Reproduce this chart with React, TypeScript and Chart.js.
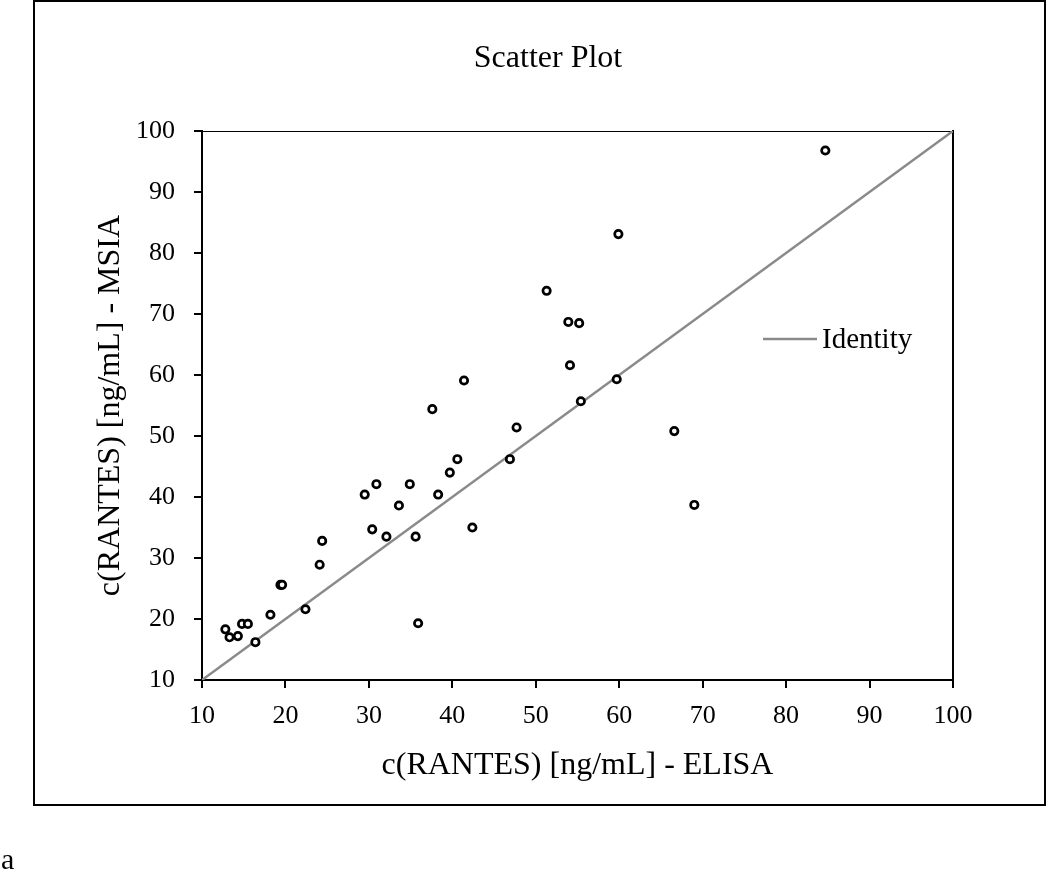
import React, { useEffect, useRef } from "react";
import { Chart, registerables } from "chart.js";

Chart.register(...registerables);

// ---- data ----
const elisa = [
  12.8, 13.3, 14.3, 14.8, 15.5, 16.4, 18.2, 19.4, 19.6, 22.4, 24.1, 24.4, 29.5,
  30.4, 30.9, 32.1, 33.6, 34.9, 35.6, 35.9, 37.6, 38.3, 39.7, 40.6, 41.4, 42.4,
  46.9, 47.7, 51.3, 53.9, 54.1, 55.2, 55.4, 59.7, 59.9, 66.6, 69.0, 84.7,
];
const msia = [
  18.3, 17.0, 17.2, 19.2, 19.2, 16.2, 20.7, 25.6, 25.6, 21.6, 28.9, 32.8, 40.4,
  34.7, 42.1, 33.5, 38.6, 42.1, 33.5, 19.3, 54.4, 40.4, 44.0, 46.2, 59.1, 35.0,
  46.2, 51.4, 73.8, 68.7, 61.6, 68.5, 55.7, 59.3, 83.1, 50.8, 38.7, 96.8,
];
const identityX = [10, 100];
const identityY = [10, 100];
const axisMin = 10;
const axisMax = 100;
const tickStep = 10;

const chartTitle = "Scatter Plot";
const xAxisTitle = "c(RANTES) [ng/mL] - ELISA";
const yAxisTitle = "c(RANTES) [ng/mL] - MSIA";
const identityLabel = "Identity";
const panelLabel = "a";

const SERIF = "'Liberation Serif', 'Times New Roman', Times, serif";

const insideLegend = {
  id: "insideLegend",
  afterDatasetsDraw(chart: any, _args: any, opts: any) {
    const ds = chart.data.datasets[opts.datasetIndex];
    if (!ds) return;
    const ca = chart.chartArea;
    const ctx = chart.ctx;
    const x0 = ca.left + opts.offsetX;
    const y0 = ca.top + opts.offsetY;
    ctx.save();
    ctx.strokeStyle = ds.borderColor;
    ctx.lineWidth = ds.borderWidth;
    ctx.beginPath();
    ctx.moveTo(x0, y0);
    ctx.lineTo(x0 + opts.lineLength, y0);
    ctx.stroke();
    ctx.fillStyle = opts.color;
    ctx.font = `${opts.fontSize}px ${SERIF}`;
    ctx.textBaseline = "middle";
    ctx.textAlign = "left";
    ctx.fillText(ds.label, x0 + opts.lineLength + opts.gap, y0 + 1);
    ctx.restore();
  },
};

function ScatterChart() {
  const ref = useRef<HTMLCanvasElement | null>(null);

  useEffect(() => {
    if (!ref.current) return;
    const points = elisa.map((x, i) => ({ x, y: msia[i] }));
    const identity = identityX.map((x, i) => ({ x, y: identityY[i] }));

    const chart = new Chart(ref.current, {
      type: "scatter",
      data: {
        datasets: [
          {
            label: "Samples",
            data: points,
            pointStyle: "circle",
            pointRadius: 3.7,
            pointHoverRadius: 3.7,
            borderWidth: 2.7,
            borderColor: "#000000",
            backgroundColor: "#ffffff",
            showLine: false,
          },
          {
            type: "line",
            label: identityLabel,
            data: identity,
            borderColor: "#8a8a8a",
            borderWidth: 2.5,
            pointRadius: 0,
            fill: false,
            tension: 0,
          } as any,
        ],
      },
      options: {
        animation: false,
        responsive: false,
        events: [],
        layout: { padding: { left: 46, right: 0, top: 0, bottom: 0 } },
        plugins: {
          legend: { display: false },
          tooltip: { enabled: false },
          title: {
            display: true,
            text: chartTitle,
            color: "#000",
            font: { family: SERIF, size: 32, weight: "normal" },
            padding: { top: 39, bottom: 53.6 },
          },
          insideLegend: {
            datasetIndex: 1,
            offsetX: 561,
            offsetY: 208,
            lineLength: 54,
            gap: 5,
            fontSize: 29,
            color: "#000",
          },
        } as any,
        scales: {
          x: {
            type: "linear",
            position: "bottom",
            min: axisMin,
            max: axisMax,
            ticks: {
              stepSize: tickStep,
              color: "#000",
              padding: 13,
              font: { family: SERIF, size: 26 },
            },
            grid: {
              display: true,
              drawOnChartArea: false,
              drawTicks: true,
              tickLength: 8,
              lineWidth: 2,
              color: "#000",
            },
            border: { display: true, color: "#000", width: 2 },
            title: {
              display: true,
              text: xAxisTitle,
              color: "#000",
              font: { family: SERIF, size: 32 },
              padding: { top: 0, bottom: 89 },
            },
            afterFit: (s: any) => {
              s.height = 194;
            },
          },
          y: {
            type: "linear",
            position: "left",
            min: axisMin,
            max: axisMax,
            ticks: {
              stepSize: tickStep,
              color: "#000",
              padding: 19,
              font: { family: SERIF, size: 26 },
            },
            grid: {
              display: true,
              drawOnChartArea: false,
              drawTicks: true,
              tickLength: 8,
              lineWidth: 2,
              color: "#000",
            },
            border: { display: true, color: "#000", width: 2 },
            title: {
              display: true,
              text: yAxisTitle,
              color: "#000",
              font: { family: SERIF, size: 32 },
              padding: { top: 45, bottom: 0 },
            },
            afterFit: (s: any) => {
              s.width = 156;
            },
          },
          x2: {
            type: "linear",
            position: "top",
            min: axisMin,
            max: axisMax,
            ticks: { display: false },
            grid: { display: false, drawTicks: false },
            border: { display: true, color: "#000", width: 1 },
            afterFit: (s: any) => {
              s.height = 0;
            },
          },
          y2: {
            type: "linear",
            position: "right",
            min: axisMin,
            max: axisMax,
            ticks: { display: false },
            grid: { display: false, drawTicks: false },
            border: { display: true, color: "#000", width: 2 },
            afterFit: (s: any) => {
              s.width = 97;
            },
          },
        } as any,
      },
      plugins: [insideLegend as any],
    });

    return () => chart.destroy();
  }, []);

  return (
    <canvas
      ref={ref}
      width={1050}
      height={874}
      style={{ position: "absolute", left: 0, top: 0, width: 1050, height: 874 }}
    />
  );
}

export default function App() {
  return (
    <div
      style={{
        position: "absolute",
        left: 0,
        top: 0,
        width: 1050,
        height: 874,
        overflow: "hidden",
        background: "#fff",
        fontFamily: SERIF,
      }}
    >
      <div
        style={{
          position: "absolute",
          left: 33,
          top: 0,
          width: 1013,
          height: 806,
          boxSizing: "border-box",
          border: "2px solid #000",
        }}
      />
      <ScatterChart />
      <div
        style={{
          position: "absolute",
          left: 1,
          top: 844,
          fontSize: 30,
          lineHeight: 1,
          color: "#000",
        }}
      >
        {panelLabel}
      </div>
    </div>
  );
}
